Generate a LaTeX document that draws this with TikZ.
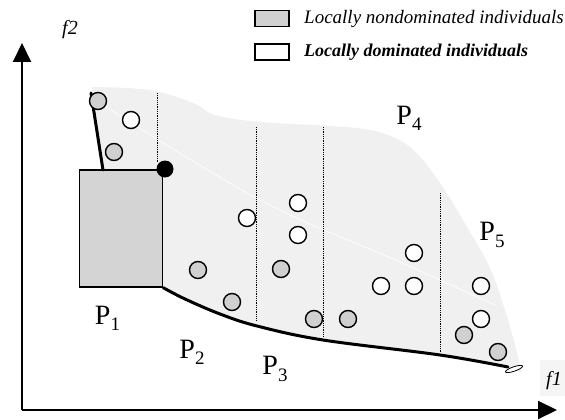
\documentclass[tikz,border=0pt]{standalone}
\usepackage{fontspec}
\setmainfont{Liberation Serif}
\usetikzlibrary{arrows.meta}
\definecolor{regionfill}{HTML}{F0F0F0}
\definecolor{nondomfill}{HTML}{D0D0D0}
\definecolor{boxfill}{HTML}{D4D4D4}
\newcommand\Psub[1]{P\raisebox{-0.22em}{\fontsize{19}{19}\selectfont #1}}
\begin{document}
\begin{tikzpicture}[x=1pt,y=-1pt,
  axis/.style={line width=2pt,-{Triangle[length=19pt,width=18pt]}},
  front/.style={line width=3pt,line cap=round},
  sep/.style={densely dotted,line width=0.8pt},
  ind/.style={circle,draw,line width=1.4pt,minimum size=17pt,inner sep=0pt},
  nondom/.style={ind,fill=nondomfill},
  dom/.style={ind,fill=white},
  legbox/.style={draw,line width=1.4pt,minimum width=34pt,minimum height=16pt,inner sep=0pt},
  legtext/.style={anchor=west,inner sep=0pt,font=\itshape},
  plabel/.style={inner sep=0pt,font=\fontsize{28}{30}\selectfont},
  axlabel/.style={inner sep=0pt,font=\fontsize{20}{22}\selectfont\itshape},
]
\useasboundingbox (0,0) rectangle (565,420);

% shaded search region
\fill[regionfill] (92,87)
  -- plot[smooth,tension=0.6] coordinates {(92,87) (150,90) (193,103) (215,115) (260,122) (330,126) (375,131) (410,147) (440,183) (467,227) (490,268) (505,310) (515,345) (522,373)}
  -- plot[smooth,tension=0.6] coordinates {(522,373) (500,365) (440,355) (323,340) (257,326) (220,314) (185,299) (163,286)}
  -- (163,170) -- (103,170) -- cycle;

% faint diagonal
\draw[white,line width=0.6pt] plot[smooth,tension=0.6] coordinates {(98,102) (260,200) (400,262) (495,305)};

% faint backdrop behind the f1 label
\fill[black!4] (540,360) rectangle (565,396);

% partition borders
\draw[sep] (157,93) -- (157,163);
\draw[sep] (256,127) -- (256,321);
\draw[sep] (323,127) -- (323,337);
\draw[sep] (440,193) -- (440,352);

% axes
\coordinate (origin) at (22,410);
\coordinate (ytip) at (22,43);
\coordinate (xtip) at (557,410);
\draw[axis] (origin) -- (ytip);
\draw[axis] (origin) -- (xtip);
\node[axlabel] (f2) at (70,30) {f2};
\node[axlabel] (f1) at (554,381) {f1};

% boundary box and fronts
\node[draw,line width=1.4pt,fill=boxfill,minimum width=83pt,minimum height=117pt,inner sep=0pt] (box) at (121,228.5) {};
\draw[front] (91,93) -- (103,170);
\draw[front] plot[smooth,tension=0.6] coordinates {(box.south east) (185,299) (220,314) (257,326) (323,340) (440,355) (508,367)};
\draw[fill=white,line width=0.8pt,rotate around={19:(514,369)}] (514,369) ellipse [x radius=9, y radius=2.2];
\node[circle,fill=black,minimum size=17pt,inner sep=0pt] (corner) at (165,169) {};

% locally nondominated individuals
\node[nondom] (g1) at (98,101) {};
\node[nondom] (g2) at (114,152) {};
\node[nondom] (g3) at (198,270) {};
\node[nondom] (g4) at (232,302) {};
\node[nondom] (g5) at (281,269) {};
\node[nondom] (g6) at (314,319) {};
\node[nondom] (g7) at (348,319) {};
\node[nondom] (g8) at (464,335) {};
\node[nondom] (g9) at (498,352) {};

% locally dominated individuals
\node[dom] (w1) at (131,120) {};
\node[dom] (w2) at (247,218) {};
\node[dom] (w3) at (298,203) {};
\node[dom] (w4) at (298,235) {};
\node[dom] (w5) at (381,286) {};
\node[dom] (w6) at (414,253) {};
\node[dom] (w7) at (414,286) {};
\node[dom] (w8) at (481,286) {};
\node[dom] (w9) at (481,319) {};

% partition labels
\node[plabel] (p1) at (107.5,318) {\Psub{1}};
\node[plabel] (p2) at (192,352) {\Psub{2}};
\node[plabel] (p3) at (275,369) {\Psub{3}};
\node[plabel] (p4) at (409,118) {\Psub{4}};
\node[plabel] (p5) at (492,235) {\Psub{5}};

% legend
\node[legbox,fill=nondomfill] (leg1) at (272,18.5) {};
\node[legbox,fill=white] (leg2) at (272,52) {};
\node[legtext] (legt1) at (304,18.5) {\fontsize{19}{22}\selectfont Locally nondominated individuals};
\node[legtext] (legt2) at (304,52) {\fontsize{18}{21}\selectfont\bfseries Locally dominated individuals};
\end{tikzpicture}
\end{document}
